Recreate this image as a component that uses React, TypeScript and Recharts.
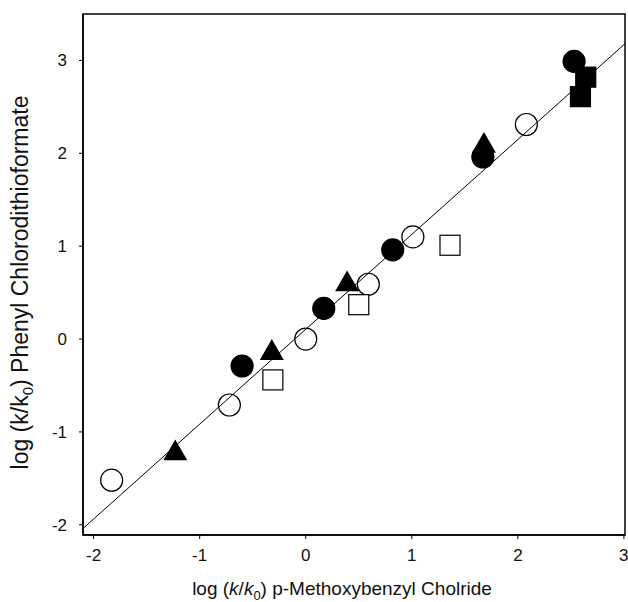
import {
  ScatterChart,
  Scatter,
  XAxis,
  YAxis,
  ReferenceLine,
  ReferenceArea,
} from 'recharts'

// log(k/k0) pairs
const OPEN_CIRCLE_X = [-1.83, -0.72, 0.0, 0.59, 1.01, 2.08]
const OPEN_CIRCLE_Y = [-1.52, -0.71, 0.0, 0.59, 1.1, 2.31]

const FILLED_CIRCLE_X = [-0.6, 0.17, 0.82, 1.67, 2.53]
const FILLED_CIRCLE_Y = [-0.29, 0.33, 0.96, 1.96, 2.99]

const TRIANGLE_X = [-1.23, -0.32, 0.39, 1.68]
const TRIANGLE_Y = [-1.23, -0.15, 0.59, 2.08]

const OPEN_SQUARE_X = [-0.31, 0.5, 1.36]
const OPEN_SQUARE_Y = [-0.44, 0.37, 1.01]

const FILLED_SQUARE_X = [2.64, 2.59]
const FILLED_SQUARE_Y = [2.82, 2.61]

// fitted line end points
const FIT_X = [-2.1, 3.01]
const FIT_Y = [-2.04, 3.18]

const X_DOMAIN = [-2.1, 3.01]
const Y_DOMAIN = [-2.11, 3.5]
const TICKS = [-2, -1, 0, 1, 2, 3]

const FONT = '"Liberation Sans", Arial, sans-serif'

const toPoints = (xs: number[], ys: number[]) => xs.map((x, i) => ({ x, y: ys[i] }))

const CircleMark = (fill: string) => (p: any) =>
  <circle cx={p.cx} cy={p.cy} r={11} fill={fill} stroke="#000" strokeWidth={1.2} />

const SquareMark = (fill: string) => (p: any) =>
  <rect x={p.cx - 10} y={p.cy - 10} width={20} height={20} fill={fill} stroke="#000" strokeWidth={1.2} />

const TriangleMark = (p: any) => {
  const s = 24
  const h = (s * Math.sqrt(3)) / 2
  const pts = `${p.cx},${p.cy - (2 * h) / 3} ${p.cx - s / 2},${p.cy + h / 3} ${p.cx + s / 2},${p.cy + h / 3}`
  return <polygon points={pts} fill="#000" />
}

function XTitle(props: any) {
  const { x, y, width } = props.viewBox
  return (
    <text x={x + width / 2 - 12} y={y + 60} textAnchor="middle" fontSize={19} fontFamily={FONT} fill="#111">
      log (<tspan fontStyle="italic">k</tspan>/<tspan fontStyle="italic">k</tspan>
      <tspan fontSize={13} dy={5}>0</tspan>
      <tspan dy={-5}>) p-Methoxybenzyl Cholride</tspan>
    </text>
  )
}

function YTitle(props: any) {
  const { x, y, height } = props.viewBox
  const cx = x + 28
  const cy = y + height / 2 + 8
  return (
    <text
      x={cx}
      y={cy}
      transform={`rotate(-90 ${cx} ${cy})`}
      textAnchor="middle"
      fontSize={23}
      fontFamily={FONT}
      fill="#111"
    >
      log (k/k<tspan fontSize={15} dy={5}>0</tspan>
      <tspan dy={-5}>) Phenyl Chlorodithioformate</tspan>
    </text>
  )
}

export default function App() {
  const tick = { fill: '#111', fontSize: 17, fontFamily: FONT }
  return (
    <div style={{ position: 'absolute', left: 0, top: 0, background: '#fff' }}>
      <ScatterChart width={628} height={602} margin={{ top: 14, right: 3, bottom: 0, left: 0 }}>
        <XAxis
          type="number"
          dataKey="x"
          domain={X_DOMAIN}
          ticks={TICKS}
          allowDataOverflow
          height={67}
          tick={tick}
          tickSize={4}
          tickMargin={10}
          tickLine={{ stroke: '#000' }}
          axisLine={{ stroke: '#000', strokeWidth: 1.5 }}
          label={{ content: XTitle }}
        />
        <YAxis
          type="number"
          dataKey="y"
          domain={Y_DOMAIN}
          ticks={TICKS}
          allowDataOverflow
          width={83}
          tick={tick}
          tickSize={4}
          tickMargin={12}
          tickLine={{ stroke: '#000' }}
          axisLine={{ stroke: '#000', strokeWidth: 1.5 }}
          label={{ content: YTitle }}
        />
        <ReferenceArea
          x1={X_DOMAIN[0]}
          x2={X_DOMAIN[1]}
          y1={Y_DOMAIN[0]}
          y2={Y_DOMAIN[1]}
          fill="none"
          stroke="#000"
          strokeWidth={1.5}
          ifOverflow="visible"
        />
        <ReferenceLine
          segment={toPoints(FIT_X, FIT_Y)}
          stroke="#000"
          strokeWidth={1}
          ifOverflow="visible"
        />
        <Scatter
          data={toPoints(OPEN_CIRCLE_X, OPEN_CIRCLE_Y)}
          shape={CircleMark('none')}
          isAnimationActive={false}
        />
        <Scatter
          data={toPoints(FILLED_CIRCLE_X, FILLED_CIRCLE_Y)}
          shape={CircleMark('#000')}
          isAnimationActive={false}
        />
        <Scatter
          data={toPoints(OPEN_SQUARE_X, OPEN_SQUARE_Y)}
          shape={SquareMark('#fff')}
          isAnimationActive={false}
        />
        <Scatter
          data={toPoints(FILLED_SQUARE_X, FILLED_SQUARE_Y)}
          shape={SquareMark('#000')}
          isAnimationActive={false}
        />
        <Scatter
          data={toPoints(TRIANGLE_X, TRIANGLE_Y)}
          shape={TriangleMark}
          isAnimationActive={false}
        />
      </ScatterChart>
    </div>
  )
}
